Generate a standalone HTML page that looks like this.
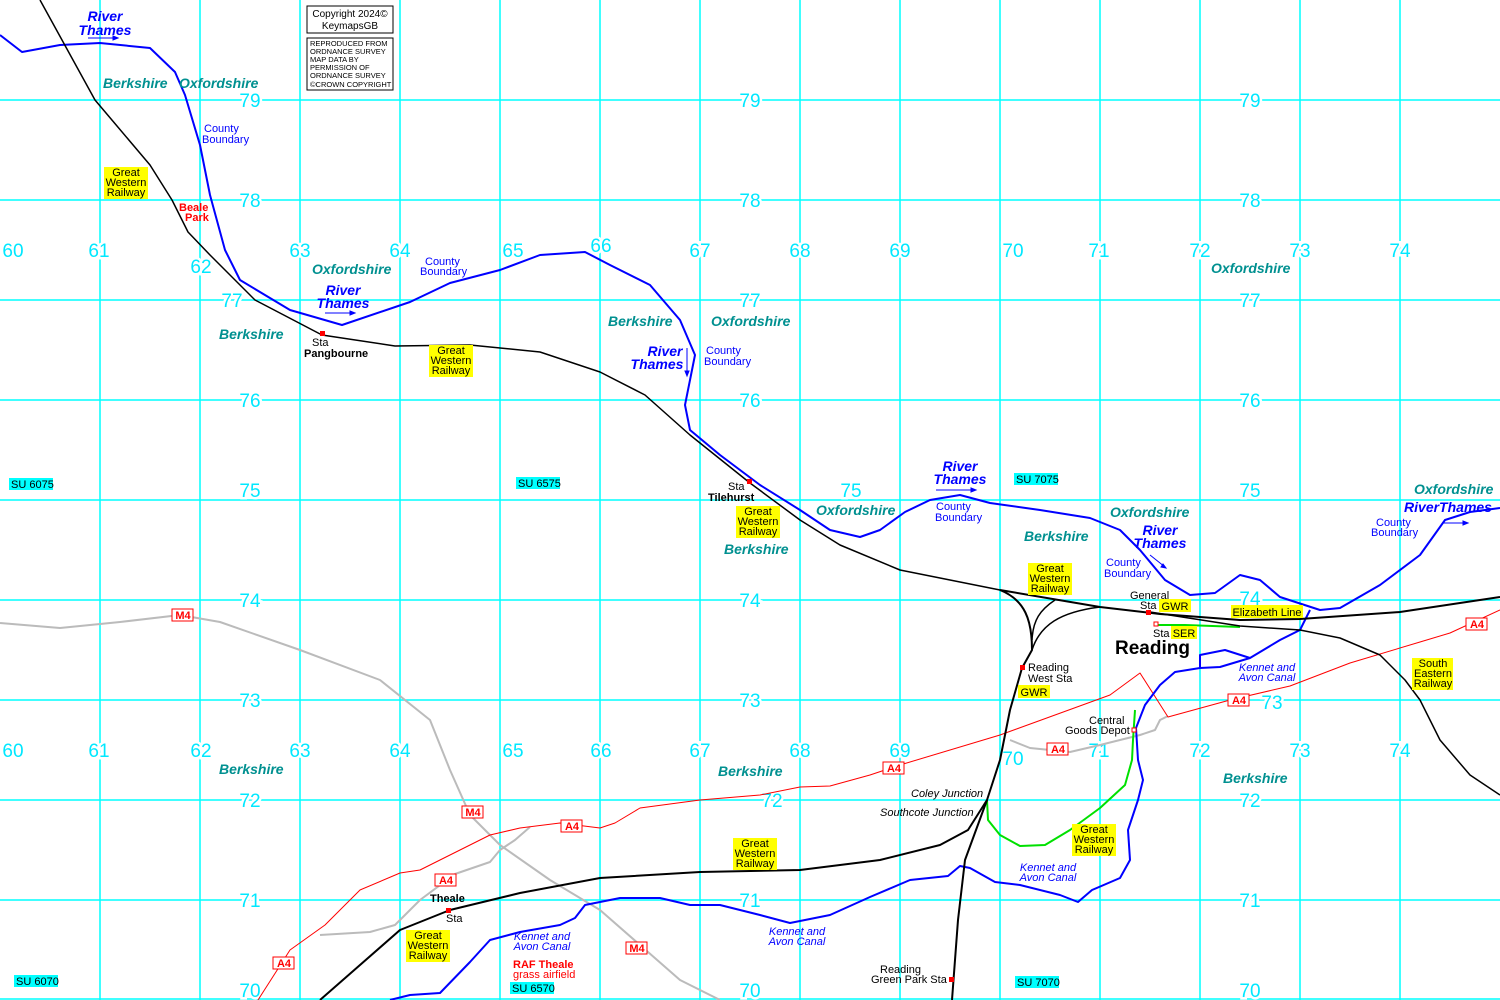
<!DOCTYPE html>
<html><head><meta charset="utf-8"><style>
html,body{margin:0;padding:0;background:#fff}
svg{display:block}
text{font-family:"Liberation Sans",sans-serif}
.g{font-size:19px;fill:#00e8ff}
.c{font-size:14px;font-weight:bold;font-style:italic;fill:#009090}
.r{font-size:14px;font-weight:bold;font-style:italic;fill:#0000ff}
.cb{font-family:"Liberation Serif",serif;font-size:11px;fill:#0000ff}
.k{font-size:11px;fill:#000}
.kc{font-size:11px;font-style:italic;fill:#0000ff}
.sm{font-size:11px;fill:#000}
</style></head><body>
<svg width="1500" height="1000" viewBox="0 0 1500 1000" xmlns="http://www.w3.org/2000/svg">
<rect width="1500" height="1000" fill="#fff"/>
<g stroke="#00ffff" stroke-width="1.5">
<line x1="100" y1="0" x2="100" y2="1000"/><line x1="200" y1="0" x2="200" y2="1000"/><line x1="300" y1="0" x2="300" y2="1000"/><line x1="400" y1="0" x2="400" y2="1000"/><line x1="500" y1="0" x2="500" y2="1000"/><line x1="600" y1="0" x2="600" y2="1000"/><line x1="700" y1="0" x2="700" y2="1000"/><line x1="800" y1="0" x2="800" y2="1000"/><line x1="900" y1="0" x2="900" y2="1000"/><line x1="1000" y1="0" x2="1000" y2="1000"/><line x1="1100" y1="0" x2="1100" y2="1000"/><line x1="1200" y1="0" x2="1200" y2="1000"/><line x1="1300" y1="0" x2="1300" y2="1000"/><line x1="1400" y1="0" x2="1400" y2="1000"/>
<line x1="0" y1="100" x2="1500" y2="100"/><line x1="0" y1="200" x2="1500" y2="200"/><line x1="0" y1="300" x2="1500" y2="300"/><line x1="0" y1="400" x2="1500" y2="400"/><line x1="0" y1="500" x2="1500" y2="500"/><line x1="0" y1="600" x2="1500" y2="600"/><line x1="0" y1="700" x2="1500" y2="700"/><line x1="0" y1="800" x2="1500" y2="800"/><line x1="0" y1="900" x2="1500" y2="900"/><line x1="0" y1="999" x2="1500" y2="999"/>
</g>
<!-- grid numbers -->
<g class="g" text-anchor="middle" paint-order="stroke" stroke="#fff" stroke-width="5">
<text x="250" y="107">79</text><text x="750" y="107">79</text><text x="1250" y="107">79</text>
<text x="250" y="207">78</text><text x="750" y="207">78</text><text x="1250" y="207">78</text>
<text x="232" y="307">77</text><text x="750" y="307">77</text><text x="1250" y="307">77</text>
<text x="250" y="407">76</text><text x="750" y="407">76</text><text x="1250" y="407">76</text>
<text x="250" y="497">75</text><text x="851" y="497">75</text><text x="1250" y="497">75</text>
<text x="250" y="607">74</text><text x="750" y="607">74</text><text x="1250" y="605">74</text>
<text x="250" y="707">73</text><text x="750" y="707">73</text><text x="1272" y="709">73</text>
<text x="250" y="807">72</text><text x="772" y="807">72</text><text x="1250" y="807">72</text>
<text x="250" y="907">71</text><text x="750" y="907">71</text><text x="1250" y="907">71</text>
<text x="250" y="997">70</text><text x="750" y="997">70</text><text x="1250" y="997">70</text>
<text x="13" y="257">60</text><text x="99" y="257">61</text><text x="201" y="273">62</text><text x="300" y="257">63</text><text x="400" y="257">64</text><text x="513" y="257">65</text><text x="601" y="252">66</text><text x="700" y="257">67</text><text x="800" y="257">68</text><text x="900" y="257">69</text><text x="1013" y="257">70</text><text x="1099" y="257">71</text><text x="1200" y="257">72</text><text x="1300" y="257">73</text><text x="1400" y="257">74</text>
<text x="13" y="757">60</text><text x="99" y="757">61</text><text x="201" y="757">62</text><text x="300" y="757">63</text><text x="400" y="757">64</text><text x="513" y="757">65</text><text x="601" y="757">66</text><text x="700" y="757">67</text><text x="800" y="757">68</text><text x="900" y="757">69</text><text x="1013" y="765">70</text><text x="1099" y="757">71</text><text x="1200" y="757">72</text><text x="1300" y="757">73</text><text x="1400" y="757">74</text>
</g>
<g fill="none" stroke-linejoin="round">
<!-- grey roads -->
<polyline stroke="#bbb" stroke-width="2" points="0,623 60,628 120,622 180,615 220,622 300,650 380,680 430,720 450,770 470,815 500,845 550,880 600,910 640,945 680,980 720,1000"/>
<polyline stroke="#bbb" stroke-width="2" points="320,935 370,932 395,925 420,900 455,874 490,862 500,850 515,840 530,827"/>
<polyline stroke="#bbb" stroke-width="2" points="1010,740 1030,748 1070,752 1100,745 1140,735 1155,730 1160,720 1168,716"/>
<!-- red A4 -->
<polyline stroke="#ff0000" stroke-width="1" points="258,1000 290,950 325,925 360,890 400,873 420,870 470,845 490,835 520,828 560,823 600,828 615,823 640,808 700,800 760,795 800,787 830,786 870,775 900,765 1000,735 1110,695 1140,673 1168,717 1230,700 1290,686 1350,663 1420,642 1450,633 1500,610"/>
<!-- river / canal -->
<polyline stroke="#0000ff" stroke-width="2" points="0,35 22,52 60,45 100,43 150,48 175,72 185,95 200,145 210,195 225,250 240,280 290,310 342,325 410,302 450,283 500,270 540,255 585,252 610,265 650,285 680,320 695,355 690,380 685,405 690,430 720,455 760,485 800,510 830,530 860,537 880,530 905,512 930,500 960,495 990,503 1040,510 1090,518 1120,530 1140,550 1165,580 1190,595 1215,593 1240,575 1260,580 1280,597 1320,610 1340,608 1380,585 1420,555 1445,520 1470,512 1500,508"/>
<polyline stroke="#0000ff" stroke-width="2" points="1310,610 1300,630 1280,640 1250,658 1220,667 1200,668 1175,672 1160,685 1145,705 1136,728 1138,760 1143,780 1138,800 1128,830 1130,860 1120,878 1092,890 1078,902 1060,895 1020,885 995,882 970,868 960,866 948,876 910,880 870,897 830,915 790,923 760,915 720,905 690,905 660,898 620,898 585,905 575,918 560,925 520,932 490,940 470,962 440,993 410,995 390,1000"/>
<polyline stroke="#0000ff" stroke-width="2" points="1200,668 1200,655 1225,650 1250,658"/>
<!-- green -->
<polyline stroke="#00e000" stroke-width="2" points="1155,625 1185,625 1240,627"/>
<polyline stroke="#00e000" stroke-width="2" points="987,800 988,820 1000,835 1020,846 1045,845 1070,830 1100,808 1125,785 1132,760 1133,740 1135,710"/>
<!-- black rail -->
<polyline stroke="#000" stroke-width="1.5" points="40,0 95,100 150,165 172,200 188,232 210,255 255,300 322,335 395,346 470,345 540,352 600,372 645,395 690,435 750,483 800,520 840,545 900,570 1000,590"/>
<polyline stroke="#000" stroke-width="2" points="1000,590 1100,607 1160,614 1240,620 1300,619 1400,612 1500,597"/>
<polyline stroke="#000" stroke-width="1.5" points="1150,612 1240,626 1300,630 1340,638 1380,655 1405,680 1420,700 1440,740 1470,775 1500,795"/>
<path stroke="#000" stroke-width="2" d="M1000,590 C1025,600 1032,620 1032,650 L1022,668 L1010,710 L1000,760 L987,800 L965,860 L958,920 L952,1000"/>
<path stroke="#000" stroke-width="1.5" d="M1100,607 C1060,612 1040,625 1032,650"/>
<path stroke="#000" stroke-width="1.5" d="M1055,600 C1040,610 1033,620 1032,640"/>
<polyline stroke="#000" stroke-width="2" points="320,1000 360,965 400,930 450,910 520,893 600,878 700,872 800,870 880,860 940,845 968,830 987,800"/>
</g>
<!-- station markers -->
<g fill="#ff0000"><rect x="320" y="331" width="5" height="5"/><rect x="747" y="479" width="5" height="5"/><rect x="1146" y="610" width="5" height="5"/><rect x="1020" y="665" width="5" height="5"/><rect x="446" y="908" width="5" height="5"/><rect x="949" y="977" width="5" height="5"/></g>
<g fill="#fff" stroke="#ff0000" stroke-width="1"><rect x="1154" y="622" width="4" height="4"/><rect x="1132" y="728" width="4" height="4"/></g>
<!-- county/rivers labels -->
<text class="c" x="103" y="88">Berkshire</text><text class="c" x="179" y="88">Oxfordshire</text>
<text class="c" x="312" y="274">Oxfordshire</text><text class="c" x="219" y="339">Berkshire</text>
<text class="c" x="608" y="326">Berkshire</text><text class="c" x="711" y="326">Oxfordshire</text>
<text class="c" x="816" y="515">Oxfordshire</text><text class="c" x="724" y="554">Berkshire</text>
<text class="c" x="1024" y="541">Berkshire</text><text class="c" x="1110" y="517">Oxfordshire</text>
<text class="c" x="1211" y="273">Oxfordshire</text><text class="c" x="1414" y="494">Oxfordshire</text>
<text class="c" x="219" y="774">Berkshire</text><text class="c" x="718" y="776">Berkshire</text><text class="c" x="1223" y="783">Berkshire</text>
<g class="r" text-anchor="middle">
<text x="105" y="21">River</text><text x="105" y="35">Thames</text>
<text x="343" y="295">River</text><text x="343" y="308">Thames</text>
<text x="665" y="356">River</text><text x="657" y="369">Thames</text>
<text x="960" y="471">River</text><text x="960" y="484">Thames</text>
<text x="1160" y="535">River</text><text x="1160" y="548">Thames</text>
<text x="1448" y="512">RiverThames</text>
</g>
<g stroke="#0000ff" stroke-width="1" fill="#0000ff">
<line x1="88" y1="38" x2="118" y2="38"/><path d="M118,38 l-5,-2 v4z"/>
<line x1="325" y1="313" x2="355" y2="313"/><path d="M355,313 l-5,-2 v4z"/>
<line x1="687" y1="348" x2="687" y2="374"/><path d="M687,376 l-2,-5 h4z"/>
<line x1="936" y1="490" x2="974" y2="490"/><path d="M976,490 l-5,-2 v4z"/>
<line x1="1150" y1="555" x2="1165" y2="567"/><path d="M1166,568 l-5,-1 l2,-3z"/>
<line x1="1443" y1="523" x2="1467" y2="523"/><path d="M1468,523 l-5,-2 v4z"/>
</g>
<g class="cb">
<text x="204" y="132">County</text><text x="202" y="143">Boundary</text>
<text x="425" y="265">County</text><text x="420" y="275">Boundary</text>
<text x="706" y="354">County</text><text x="704" y="365">Boundary</text>
<text x="936" y="510">County</text><text x="935" y="521">Boundary</text>
<text x="1106" y="566">County</text><text x="1104" y="577">Boundary</text>
<text x="1376" y="526">County</text><text x="1371" y="536">Boundary</text>
</g>
<g class="kc" text-anchor="middle">
<text x="542" y="940">Kennet and</text><text x="542" y="950">Avon Canal</text>
<text x="797" y="935">Kennet and</text><text x="797" y="945">Avon Canal</text>
<text x="1048" y="871">Kennet and</text><text x="1048" y="881">Avon Canal</text>
<text x="1267" y="671">Kennet and</text><text x="1267" y="681">Avon Canal</text>
</g>
<!-- yellow labels -->
<g font-size="11" text-anchor="middle">
<rect x="104" y="167" width="44" height="32" fill="#ffff00"/><text x="126" y="176">Great</text><text x="126" y="186">Western</text><text x="126" y="196">Railway</text>
<rect x="429" y="345" width="44" height="32" fill="#ffff00"/><text x="451" y="354">Great</text><text x="451" y="364">Western</text><text x="451" y="374">Railway</text>
<rect x="736" y="506" width="44" height="32" fill="#ffff00"/><text x="758" y="515">Great</text><text x="758" y="525">Western</text><text x="758" y="535">Railway</text>
<rect x="1028" y="563" width="44" height="32" fill="#ffff00"/><text x="1050" y="572">Great</text><text x="1050" y="582">Western</text><text x="1050" y="592">Railway</text>
<rect x="733" y="838" width="44" height="32" fill="#ffff00"/><text x="755" y="847">Great</text><text x="755" y="857">Western</text><text x="755" y="867">Railway</text>
<rect x="1072" y="824" width="44" height="32" fill="#ffff00"/><text x="1094" y="833">Great</text><text x="1094" y="843">Western</text><text x="1094" y="853">Railway</text>
<rect x="406" y="930" width="44" height="32" fill="#ffff00"/><text x="428" y="939">Great</text><text x="428" y="949">Western</text><text x="428" y="959">Railway</text>
<rect x="1412" y="658" width="41" height="32" fill="#ffff00"/><text x="1433" y="667">South</text><text x="1433" y="677">Eastern</text><text x="1433" y="687">Railway</text>
<rect x="1159" y="599" width="32" height="13" fill="#ffff00"/><text x="1175" y="610">GWR</text>
<rect x="1171" y="626" width="26" height="13" fill="#ffff00"/><text x="1184" y="637">SER</text>
<rect x="1018" y="685" width="32" height="13" fill="#ffff00"/><text x="1034" y="696">GWR</text>
<rect x="1231" y="605" width="72" height="13" fill="#ffff00"/><text x="1267" y="616">Elizabeth Line</text>
</g>
<!-- SU boxes -->
<g font-size="11">
<rect x="9" y="478" width="44" height="12" fill="#00ffff"/><text x="11" y="488">SU 6075</text>
<rect x="516" y="477" width="44" height="12" fill="#00ffff"/><text x="518" y="487">SU 6575</text>
<rect x="1014" y="473" width="44" height="12" fill="#00ffff"/><text x="1016" y="483">SU 7075</text>
<rect x="14" y="975" width="44" height="12" fill="#00ffff"/><text x="16" y="985">SU 6070</text>
<rect x="510" y="982" width="44" height="12" fill="#00ffff"/><text x="512" y="992">SU 6570</text>
<rect x="1015" y="976" width="44" height="12" fill="#00ffff"/><text x="1017" y="986">SU 7070</text>
</g>
<!-- road shields -->
<g font-size="11" font-weight="bold" fill="#ff0000" text-anchor="middle">
<g><rect x="172" y="609" width="21" height="12" fill="#fff" stroke="#f00"/><text x="183" y="619">M4</text></g>
<g><rect x="462" y="806" width="21" height="12" fill="#fff" stroke="#f00"/><text x="473" y="816">M4</text></g>
<g><rect x="626" y="942" width="21" height="12" fill="#fff" stroke="#f00"/><text x="637" y="952">M4</text></g>
<g><rect x="561" y="820" width="21" height="12" fill="#fff" stroke="#f00"/><text x="572" y="830">A4</text></g>
<g><rect x="435" y="874" width="21" height="12" fill="#fff" stroke="#f00"/><text x="446" y="884">A4</text></g>
<g><rect x="273" y="957" width="21" height="12" fill="#fff" stroke="#f00"/><text x="284" y="967">A4</text></g>
<g><rect x="883" y="762" width="21" height="12" fill="#fff" stroke="#f00"/><text x="894" y="772">A4</text></g>
<g><rect x="1047" y="743" width="21" height="12" fill="#fff" stroke="#f00"/><text x="1058" y="753">A4</text></g>
<g><rect x="1228" y="694" width="21" height="12" fill="#fff" stroke="#f00"/><text x="1239" y="704">A4</text></g>
<g><rect x="1466" y="618" width="21" height="12" fill="#fff" stroke="#f00"/><text x="1477" y="628">A4</text></g>
</g>
<!-- place labels -->
<text x="179" y="211" font-size="11" font-weight="bold" fill="#f00">Beale</text><text x="185" y="221" font-size="11" font-weight="bold" fill="#f00">Park</text>
<text class="sm" x="312" y="346">Sta</text><text x="304" y="357" font-size="11" font-weight="bold">Pangbourne</text>
<text class="sm" x="728" y="490">Sta</text><text x="708" y="501" font-size="11" font-weight="bold">Tilehurst</text>
<text class="sm" x="1130" y="599">General</text><text class="sm" x="1140" y="609">Sta</text>
<text class="sm" x="1153" y="637">Sta</text>
<text x="1115" y="654" font-size="19" font-weight="bold">Reading</text>
<text class="sm" x="1028" y="671">Reading</text><text class="sm" x="1028" y="682">West Sta</text>
<text class="sm" x="1089" y="724">Central</text><text class="sm" x="1065" y="734">Goods Depot</text>
<text x="911" y="797" font-size="11" font-style="italic">Coley Junction</text>
<text x="880" y="816" font-size="11" font-style="italic">Southcote Junction</text>
<text class="sm" x="880" y="973">Reading</text><text class="sm" x="871" y="983">Green Park Sta</text>
<text x="430" y="902" font-size="11" font-weight="bold">Theale</text><text class="sm" x="446" y="922">Sta</text>
<text x="513" y="968" font-size="11" font-weight="bold" fill="#f00">RAF Theale</text><text x="513" y="978" font-size="11" fill="#f00">grass airfield</text>
<!-- copyright -->
<rect x="307" y="6" width="86" height="27" fill="#fff" stroke="#000"/>
<text x="350" y="17" font-size="10" text-anchor="middle">Copyright 2024©</text><text x="350" y="29" font-size="10" text-anchor="middle">KeymapsGB</text>
<rect x="307" y="38" width="86" height="52" fill="#fff" stroke="#000"/>
<g font-size="7.5"><text x="310" y="46">REPRODUCED FROM</text><text x="310" y="54">ORDNANCE SURVEY</text><text x="310" y="62">MAP DATA BY</text><text x="310" y="70">PERMISSION OF</text><text x="310" y="78">ORDNANCE SURVEY</text><text x="310" y="87">©CROWN COPYRIGHT</text></g>
</svg>
</body></html>
